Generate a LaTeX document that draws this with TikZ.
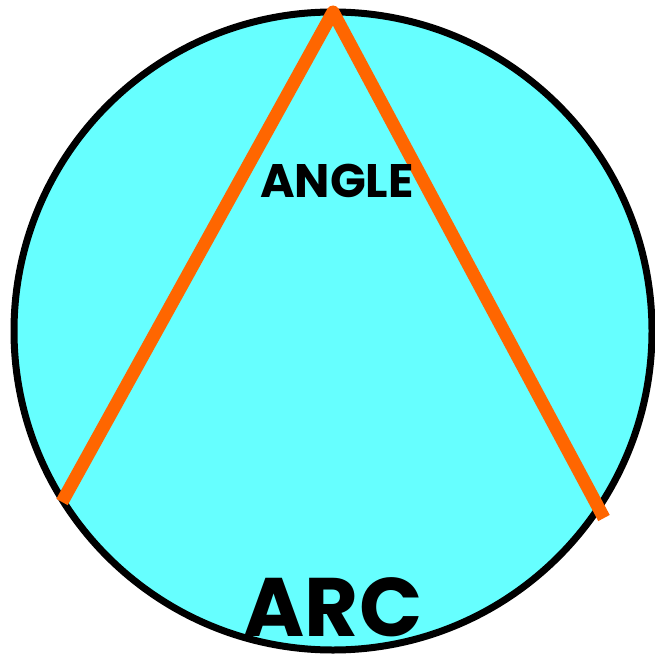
\documentclass[tikz,border=0pt]{standalone}
\usepackage{fontspec}
\setmainfont{Poppins}
\definecolor{circfill}{HTML}{66FFFF}
\definecolor{chordcol}{HTML}{FF6600}
\begin{document}
\begin{tikzpicture}[x=1pt,y=-1pt, line join=round, font=\bfseries]
			\useasboundingbox (0,0)rectangle(655,658);
			\def\r{319}
			\draw[fill=circfill,line width=7pt](333,331)circle(\r);
			\coordinate (top) at (333,12);
			\coordinate (left) at (62,502);
			\coordinate (right) at (604,518);
			\draw[chordcol,line width=13pt](left)--(top)--(right);
			\node[inner sep=0,anchor=base] (angle) at (337,197){\fontsize{47}{50}\selectfont ANGLE};
			\node[inner sep=0,anchor=base] (arc) at (333,636){\fontsize{83}{90}\selectfont ARC};
		\end{tikzpicture}
\end{document}
